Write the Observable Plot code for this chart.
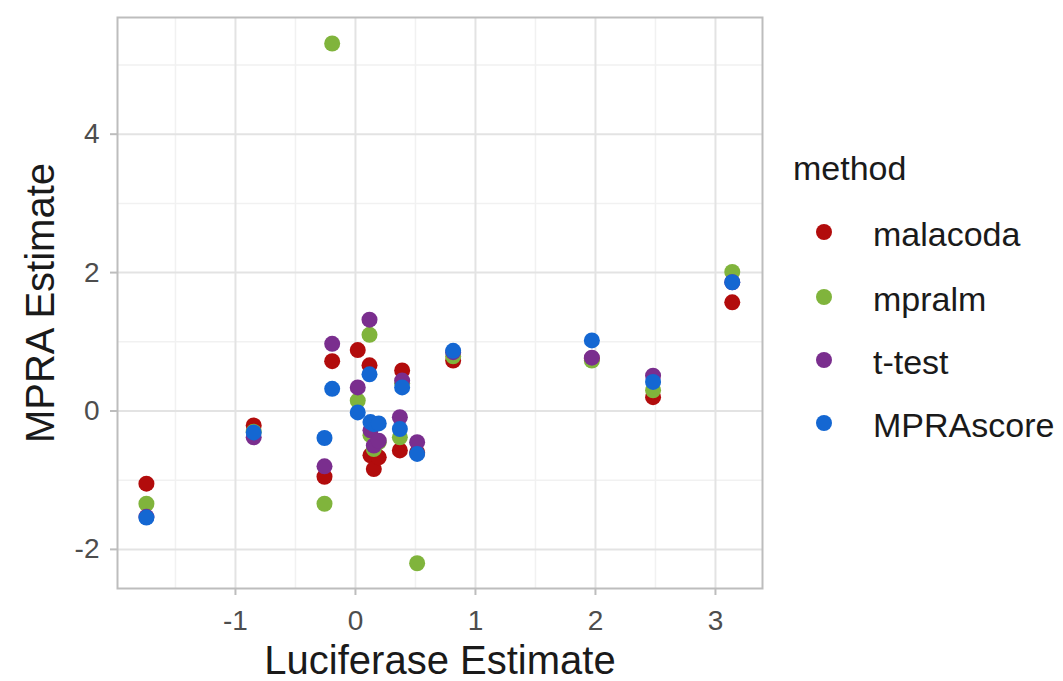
<!DOCTYPE html>
<html><head><meta charset="utf-8">
<script src="https://cdn.jsdelivr.net/npm/d3@7"></script>
<script src="https://cdn.jsdelivr.net/npm/@observablehq/plot@0.6"></script>
<style>
body{margin:0;background:#fff;font-family:"Liberation Sans",Arial,sans-serif;}
#wrap{display:flex;width:1063px;height:681px;}
#legend{position:relative;width:288px;height:681px;color:#1a1a1a;}
#legend .t{position:absolute;font-size:34px;line-height:40px;white-space:nowrap;}
#legend .d{position:absolute;width:16px;height:16px;border-radius:50%;}
</style></head><body>
<div id="wrap"><div id="chart"></div><div id="legend"></div></div>
<script>
const methods = ["malacoda", "mpralm", "t-test", "MPRAscore"];
const colors = ["#b20c0c", "#80b43c", "#7a2e8e", "#1467d2"];

// Luciferase estimate per variant
const luciferase = [-1.742, -0.848, -0.258, -0.194, 0.019, 0.117, 0.125, 0.153, 0.194, 0.389, 0.37, 0.514, 0.814, 1.97, 2.48, 3.14];
// MPRA estimate per method (same variant order)
const malacoda  = [-1.05, -0.21, -0.95, 0.72, 0.88, 0.66, -0.64, -0.84, -0.67, 0.585, -0.57, -0.60, 0.73, 0.76, 0.20, 1.57];
const mpralm    = [-1.34, -0.30, -1.34, 5.31, 0.15, 1.10, -0.35, -0.55, -0.45, 0.40, -0.38, -2.20, 0.79, 0.73, 0.30, 2.01];
const ttest     = [-1.53, -0.38, -0.80, 0.97, 0.34, 1.32, -0.28, -0.50, -0.43, 0.44, -0.09, -0.45, 0.85, 0.77, 0.51, 1.86];
const mprascore = [-1.54, -0.31, -0.39, 0.32, -0.02, 0.53, -0.16, -0.19, -0.18, 0.34, -0.26, -0.62, 0.87, 1.02, 0.42, 1.86];

const xTicks = [-1, 0, 1, 2, 3];
const xMinor = [-1.5, -0.5, 0.5, 1.5, 2.5];
const yTicks = [-2, 0, 2, 4];
const yMinor = [-1, 1, 3, 5];

const series = [malacoda, mpralm, ttest, mprascore];
const data = [];
methods.forEach((m, i) => series[i].forEach((v, j) => data.push({method: m, x: luciferase[j], y: v})));

const font = '"Liberation Sans", Arial, sans-serif';
const plot = Plot.plot({
  width: 775, height: 681,
  marginLeft: 117, marginRight: 13, marginTop: 17, marginBottom: 93,
  style: {fontFamily: font, background: "white"},
  x: {domain: [-1.983, 3.392], label: null},
  y: {domain: [-2.565, 5.686], label: null},
  color: {domain: methods, range: colors},
  marks: [
    Plot.gridX(xMinor, {stroke: "#f1f1f1", strokeOpacity: 1, strokeWidth: 1.5}),
    Plot.gridY(yMinor, {stroke: "#f1f1f1", strokeOpacity: 1, strokeWidth: 1.5}),
    Plot.gridX(xTicks, {stroke: "#e3e3e3", strokeOpacity: 1, strokeWidth: 2}),
    Plot.gridY(yTicks, {stroke: "#e3e3e3", strokeOpacity: 1, strokeWidth: 2}),
    Plot.frame({stroke: "#bdbdbd", strokeWidth: 2}),
    Plot.axisX(xTicks, {tickSize: 7, tickPadding: 15, fontSize: 28, fill: "#4d4d4d", stroke: "#bdbdbd", strokeWidth: 2, tickFormat: d => String(d), label: null}),
    Plot.axisY(yTicks, {tickSize: 7, tickPadding: 11, fontSize: 28, fill: "#4d4d4d", stroke: "#bdbdbd", strokeWidth: 2, tickFormat: d => String(d), label: null}),
    Plot.dot(data, {x: "x", y: "y", fill: "method", r: 8}),
    Plot.text(["Luciferase Estimate"], {frameAnchor: "bottom", text: d => d, lineAnchor: "bottom", dy: 85, fontSize: 40, fill: "#1a1a1a"}),
    Plot.text(["MPRA Estimate"], {frameAnchor: "left", text: d => d, textAnchor: "middle", lineAnchor: "bottom", rotate: -90, dx: -64, fontSize: 40, fill: "#1a1a1a"})
  ]
});
document.getElementById("chart").appendChild(plot);

const legend = document.getElementById("legend");
const title = document.createElement("div");
title.className = "t";
title.textContent = "method";
title.style.left = "18px";
title.style.top = (168 - 20) + "px";
legend.appendChild(title);
const legendY = [232, 297, 360, 423];
methods.forEach((m, i) => {
  const d = document.createElement("div");
  d.className = "d";
  d.style.background = colors[i];
  d.style.left = (49 - 8) + "px";
  d.style.top = (legendY[i] - 8) + "px";
  legend.appendChild(d);
  const t = document.createElement("div");
  t.className = "t";
  t.textContent = m;
  t.style.left = "98px";
  t.style.top = (legendY[i] - 20 + 2) + "px";
  legend.appendChild(t);
});
</script>
</body></html>
